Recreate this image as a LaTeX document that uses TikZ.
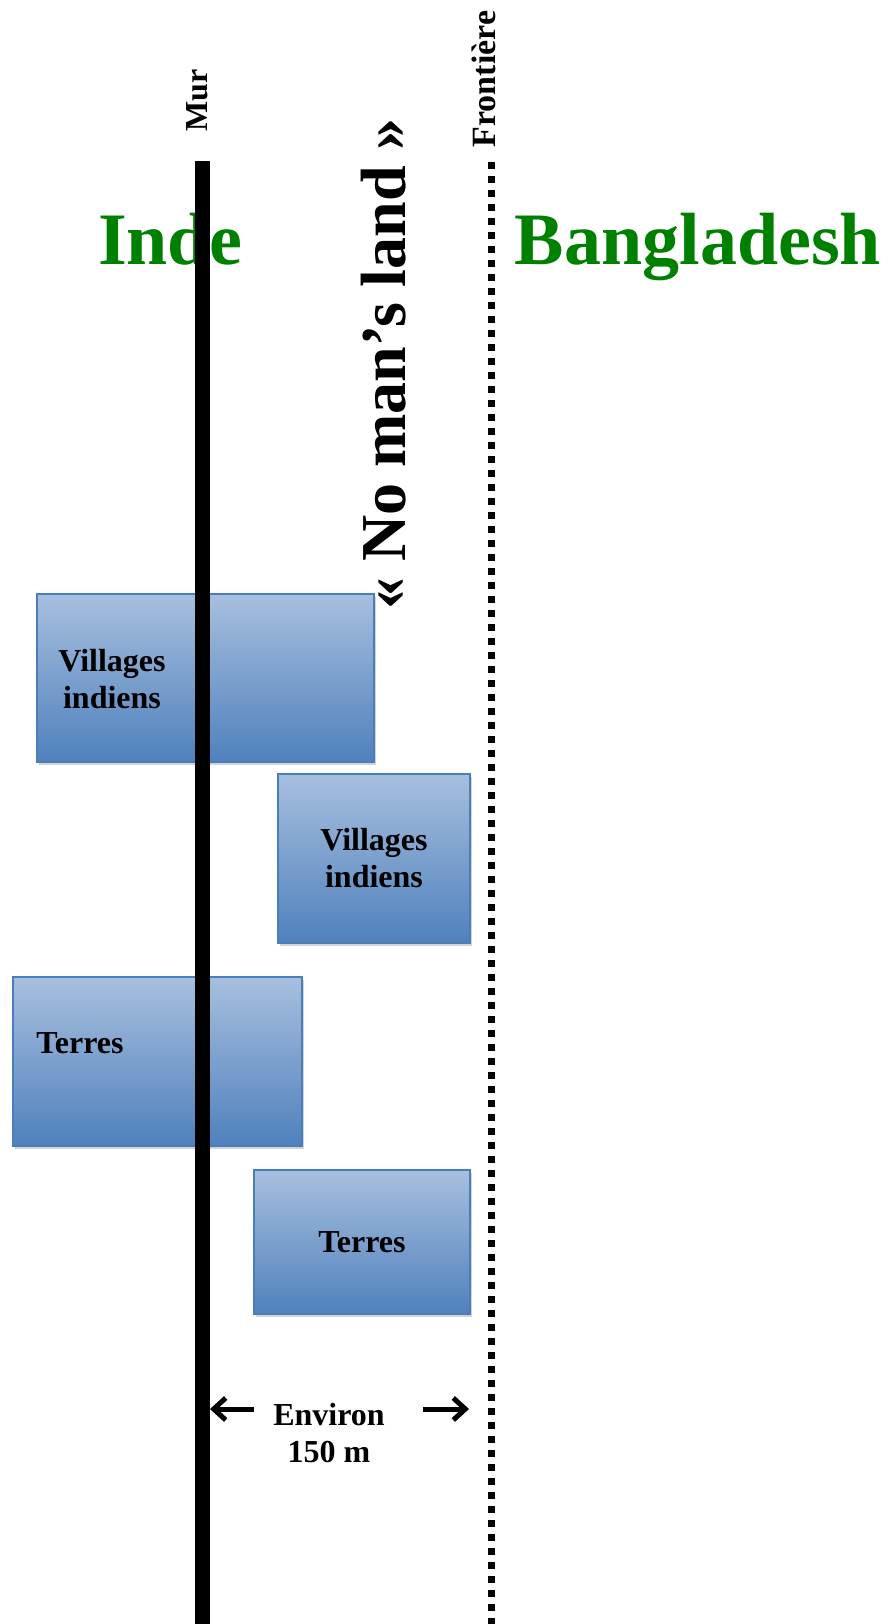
\documentclass[tikz,border=0pt]{standalone}
\usepackage{fontspec}
\setmainfont{Liberation Serif}
\usepackage{tikz}
\usetikzlibrary{arrows.meta,positioning,shadows}

\definecolor{boxtop}{RGB}{167,191,222}
\definecolor{boxbot}{RGB}{79,129,189}
\definecolor{boxline}{RGB}{74,126,187}
\definecolor{paysvert}{RGB}{0,128,0}

\begin{document}
\begin{tikzpicture}[x=1pt, y=1pt,
    zone/.style={rectangle, draw=boxline, line width=1.5pt, top color=boxtop, bottom color=boxbot, inner sep=0pt,
        drop shadow={opacity=0.35, shadow xshift=2pt, shadow yshift=-3pt}},
    lbl/.style={font=\fontsize{32}{37}\selectfont\bfseries, align=center, inner sep=0pt},
    pays/.style={font=\fontsize{74}{80}\selectfont\bfseries, text=paysvert, anchor=base, inner sep=0pt},
    arrow/.style={-{Straight Barb[length=12pt, width=22pt, line width=5pt]}, line width=5pt}
]
\useasboundingbox (0,0) rectangle (890,-1624);

% Countries
\node[pays] (inde) at (170,-264) {Inde};
\node[pays] (bangla) at (698,-264) {Bangladesh};

% Zones along the wall
\node[zone, minimum width=337pt, minimum height=168pt] (village1) at (205.5,-678) {};
\node[zone, minimum width=192pt, minimum height=169pt] (village2) at (374,-858.5) {};
\node[zone, minimum width=289pt, minimum height=169pt] (terre1) at (157.5,-1061.5) {};
\node[zone, minimum width=216pt, minimum height=144pt] (terre2) at (362,-1242) {};

\node[lbl] (village1txt) at (112,-679) {Villages\\indiens};
\node[lbl] (village2txt) at (village2) {Villages\\indiens};
\node[lbl] (terre1txt) at (80,-1043) {Terres};
\node[lbl] (terre2txt) at (terre2) {Terres};

% Wall and border
\coordinate (murtop) at (202.5,-161);
\coordinate (murbot) at (202.5,-1624);
\coordinate (fronttop) at (491,-162);
\coordinate (frontbot) at (491,-1624);
\draw[line width=15pt] (murtop) -- (murbot);
\draw[line width=7pt, dash pattern=on 7pt off 7pt] (fronttop) -- (frontbot);

\node[lbl, rotate=90] (mur) at (197.5,-100.5) {Mur};
\node[lbl, rotate=90, font=\fontsize{34}{37}\selectfont\bfseries] (frontiere) at (484,-79) {Frontière};
\node[lbl, rotate=90, font=\fontsize{64}{70}\selectfont\bfseries] (noman) at (384,-364) {« No man’s land »};

% Distance
\node[lbl] (distance) at (329,-1433) {Environ\\150 m};
\coordinate (gauchedeb) at (254,-1409);
\coordinate (gauchefin) at (210,-1409);
\coordinate (droitedeb) at (423,-1409);
\coordinate (droitefin) at (469,-1409);
\draw[arrow] (gauchedeb) -- (gauchefin);
\draw[arrow] (droitedeb) -- (droitefin);

\end{tikzpicture}
\end{document}
